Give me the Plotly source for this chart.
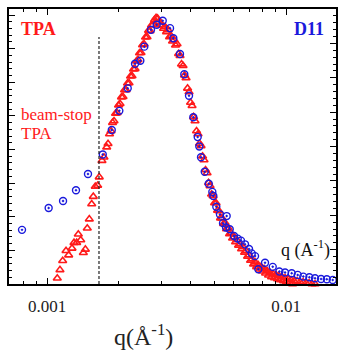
import plotly.graph_objects as go

# ---- data (q in 1/Angstrom, intensity in arbitrary linear units) ----
d11_q = [0.000786, 0.001016, 0.001167, 0.001322, 0.001484, 0.001711, 0.001866, 0.002007,
         0.002176, 0.002335, 0.002457, 0.002553, 0.002723, 0.002877, 0.003049, 0.003271,
         0.003377, 0.003600, 0.003753, 0.003927, 0.004093, 0.004270, 0.004337, 0.004408,
         0.004569, 0.004749, 0.004916, 0.004964, 0.005108, 0.005292, 0.005449, 0.005610,
         0.005645, 0.005813, 0.006058, 0.006278, 0.006479, 0.006734, 0.007000, 0.007185,
         0.007419, 0.007658, 0.008168, 0.008797, 0.009376, 0.009904, 0.01056, 0.01119,
         0.01181, 0.01252, 0.01322, 0.01401, 0.01481, 0.01568]
d11_I = [1.61, 2.26, 2.47, 2.79, 3.27, 3.85, 4.58, 5.15, 5.82, 6.55,
         6.64, 7.06, 7.56, 7.71, 7.83, 7.61, 7.31, 6.84, 6.24, 5.60,
         4.96, 4.37, 4.09, 3.77, 3.34, 2.98, 2.74, 2.62, 2.30, 2.07,
         1.81, 1.68, 2.02, 1.63, 1.43, 1.35, 1.29, 1.18, 1.04, 0.91,
         0.83, 0.44, 0.63, 0.51, 0.37, 0.34, 0.32, 0.27, 0.22, 0.20,
         0.17, 0.15, 0.14, 0.12]

tpa_q_low = [0.001104, 0.001133, 0.001163, 0.001201, 0.001232, 0.001272, 0.001297, 0.001331,
             0.001352, 0.001384, 0.001419, 0.001447, 0.001474, 0.001503, 0.001538, 0.001562,
             0.001592, 0.001629, 0.001654, 0.001698, 0.001731, 0.001777]
tpa_I_low = [0.17, 0.42, 0.69, 0.99, 0.86, 1.06, 1.23, 1.23, 1.48, 1.31, 0.93,
             1.03, 1.66, 1.93, 2.38, 2.60, 2.90, 2.93, 3.18, 3.67, 3.77, 4.07]

tpa_q_high = [0.001800, 0.001853, 0.001907, 0.001963, 0.002021, 0.002080, 0.002141, 0.002204,
              0.002268, 0.002335, 0.002403, 0.002474, 0.002546, 0.002621, 0.002698, 0.002777,
              0.002859, 0.002942, 0.003029, 0.003117, 0.003209, 0.003303, 0.003400, 0.003500,
              0.003602, 0.003708, 0.003817, 0.003929, 0.004044, 0.004162, 0.004284, 0.004410,
              0.004539, 0.004673, 0.004810, 0.004951, 0.005096, 0.005245, 0.005399, 0.005557,
              0.005720, 0.005888, 0.006061, 0.006239, 0.006422, 0.006610, 0.006804, 0.007003,
              0.007209, 0.007420, 0.007638, 0.007862, 0.008092, 0.008330, 0.008574, 0.008825,
              0.009084, 0.009351, 0.009625, 0.009907, 0.010198, 0.010497, 0.010805, 0.011122,
              0.011448, 0.011784, 0.012129, 0.012485, 0.012851, 0.013228, 0.013616, 0.014015,
              0.014426, 0.014849, 0.015285, 0.015733, 0.016195]
tpa_I_high = [4.17, 4.55, 4.85, 5.09, 5.36, 5.57, 5.77, 5.98, 6.19, 6.40,
              6.67, 6.88, 7.14, 7.35, 7.53, 7.71, 7.92, 7.80, 7.71, 7.65,
              7.56, 7.38, 7.26, 7.14, 6.79, 6.49, 6.13, 5.71, 5.30, 4.85,
              4.46, 4.11, 3.69, 3.30, 2.92, 2.62, 2.41, 2.17, 1.96, 1.82,
              1.67, 1.52, 1.40, 1.31, 1.19, 1.10, 0.98, 0.86, 0.74, 0.65,
              0.57, 0.51, 0.45, 0.39, 0.33, 0.30, 0.27, 0.24, 0.21, 0.18,
              0.15, 0.12, 0.09, 0.09, 0.06, 0.06, 0.03, 0.03, 0.00, 0.00,
              -0.03, -0.03, -0.03, -0.06, -0.06, -0.06, -0.09]

# second (interleaved) reading of the dense TPA band
tpa_q_band = [0.001826, 0.001880, 0.001935, 0.001992, 0.002050, 0.002110, 0.002172, 0.002236,
              0.002301, 0.002369, 0.002438, 0.002510, 0.002583, 0.002659, 0.002737, 0.002817,
              0.002901, 0.002985, 0.003073, 0.003162, 0.003256, 0.003351, 0.003449, 0.003551,
              0.003654, 0.003762, 0.003873, 0.003986, 0.004103, 0.004223, 0.004346, 0.004474,
              0.004605, 0.004741, 0.004880, 0.005023, 0.005170, 0.005321, 0.005478, 0.005638,
              0.005803, 0.005974, 0.006149, 0.006330, 0.006515, 0.006706, 0.006903, 0.007105,
              0.007314, 0.007528, 0.007749, 0.007976, 0.008210, 0.008451, 0.008699, 0.008953,
              0.009216, 0.009487, 0.009765, 0.010051, 0.010346, 0.010650, 0.010962, 0.011284,
              0.011615, 0.011955, 0.012305, 0.012667, 0.013038, 0.013420, 0.013814, 0.014219,
              0.014636, 0.015065, 0.015507, 0.015962]
tpa_I_band = [4.46, 4.80, 5.07, 5.32, 5.56, 5.77, 5.97, 6.18, 6.39, 6.63,
              6.87, 7.11, 7.34, 7.54, 7.70, 7.86, 7.90, 7.70, 7.60, 7.50,
              7.35, 7.22, 7.10, 6.85, 6.54, 6.21, 5.82, 5.40, 4.97, 4.55,
              4.18, 3.80, 3.39, 3.01, 2.67, 2.41, 2.19, 1.96, 1.79, 1.64,
              1.49, 1.36, 1.25, 1.15, 1.04, 0.94, 0.82, 0.70, 0.59, 0.51,
              0.44, 0.38, 0.32, 0.26, 0.21, 0.18, 0.15, 0.12, 0.09, 0.06,
              0.03, 0.00, -0.01, -0.03, -0.04, -0.06, -0.06, -0.08, -0.09, -0.11,
              -0.13, -0.13, -0.14, -0.16, -0.16, -0.17]

beamstop_q = [0.00165, 0.00165]
beamstop_I = [0.0, 7.35]

x_major = [0.001, 0.01]
x_major_text = ["0.001", "0.01"]
x_minor = [0.0007, 0.0008, 0.0009, 0.002, 0.003, 0.004, 0.005, 0.006, 0.007, 0.008, 0.009]

SERIF = "Liberation Serif"
RED = "#ff1a1a"
BLUE = "#1a1adc"

fig = go.Figure()

fig.add_trace(go.Scatter(
    x=tpa_q_low + tpa_q_high + tpa_q_band, y=tpa_I_low + tpa_I_high + tpa_I_band,
    mode="markers",
    marker=dict(symbol="triangle-up-open", size=7, color=RED, line=dict(width=1.6, color=RED)),
    cliponaxis=False, showlegend=False, name="TPA"))

fig.add_trace(go.Scatter(
    x=d11_q, y=d11_I, mode="markers",
    marker=dict(symbol="circle-open-dot", size=7, color=BLUE, line=dict(width=1.4, color=BLUE)),
    cliponaxis=False, showlegend=False, name="D11"))

fig.add_trace(go.Scatter(
    x=beamstop_q, y=beamstop_I, mode="lines",
    line=dict(color="#222222", width=1.2, dash="3px,2px"),
    showlegend=False, hoverinfo="skip"))

# empty trace so that the right-hand axis is drawn
fig.add_trace(go.Scatter(x=[None], y=[None], yaxis="y2", showlegend=False, hoverinfo="skip"))

fig.update_layout(
    width=338, height=354,
    margin=dict(l=9, r=2, t=9, b=70),
    paper_bgcolor="white", plot_bgcolor="white",
    font=dict(family=SERIF, color="#111111"),
    xaxis=dict(type="log", range=[-3.159, -1.791], showgrid=False, zeroline=False,
               showline=True, linecolor="black", linewidth=1.5, mirror="ticks",
               ticks="inside", ticklen=6, tickwidth=1, tickcolor="black",
               tickvals=x_major, ticktext=x_major_text, ticklabelstandoff=6,
               tickfont=dict(family=SERIF, size=17, color="#222222"),
               minor=dict(tickvals=x_minor, ticks="inside", ticklen=3.5, tickwidth=1,
                          tickcolor="black", showgrid=False)),
    yaxis=dict(range=[0, 8.18], tick0=0, dtick=1, showgrid=False, zeroline=False,
               showline=True, linecolor="black", linewidth=1.5, mirror=False,
               ticks="inside", ticklen=6, tickwidth=1, tickcolor="black",
               showticklabels=False,
               minor=dict(dtick=0.2, tick0=0, ticks="inside", ticklen=3.5, tickwidth=1,
                          tickcolor="black", showgrid=False)),
    yaxis2=dict(overlaying="y", side="right", range=[0, 8], tick0=0, dtick=1,
                showgrid=False, zeroline=False, showline=True, linecolor="black",
                linewidth=1.5, ticks="inside", ticklen=6, tickwidth=1, tickcolor="black",
                showticklabels=False,
                minor=dict(dtick=0.2, tick0=0, ticks="inside", ticklen=3.5, tickwidth=1,
                           tickcolor="black", showgrid=False)),
)

annos = [
    dict(text="<b>TPA</b>", x=0.0887, y=0.927, color=RED, size=18, xa="center"),
    dict(text="<b>D11</b>", x=0.917, y=0.927, color=BLUE, size=18, xa="center"),
    dict(text="beam-stop", x=0.0306, y=0.616, color=RED, size=17, xa="left"),
    dict(text="TPA", x=0.0306, y=0.5455, color=RED, size=17, xa="left"),
    dict(text="q (A<sup>-1</sup>)", x=0.826, y=0.128, color="#111111", size=18, xa="left"),
]
for a in annos:
    fig.add_annotation(text=a["text"], x=a["x"], y=a["y"], xref="paper", yref="paper",
                       xanchor=a["xa"], yanchor="middle", showarrow=False,
                       font=dict(family=SERIF, size=a["size"], color=a["color"]))

fig.add_annotation(text="q(Å<sup>-1</sup>)", x=0.41, y=-0.185, xref="paper", yref="paper",
                   xanchor="center", yanchor="middle", showarrow=False,
                   font=dict(family=SERIF, size=24, color="#222222"))

fig.write_html("out.html", config={"displayModeBar": False},
               post_script="document.body.style.margin='0';document.body.style.overflow='hidden';")
